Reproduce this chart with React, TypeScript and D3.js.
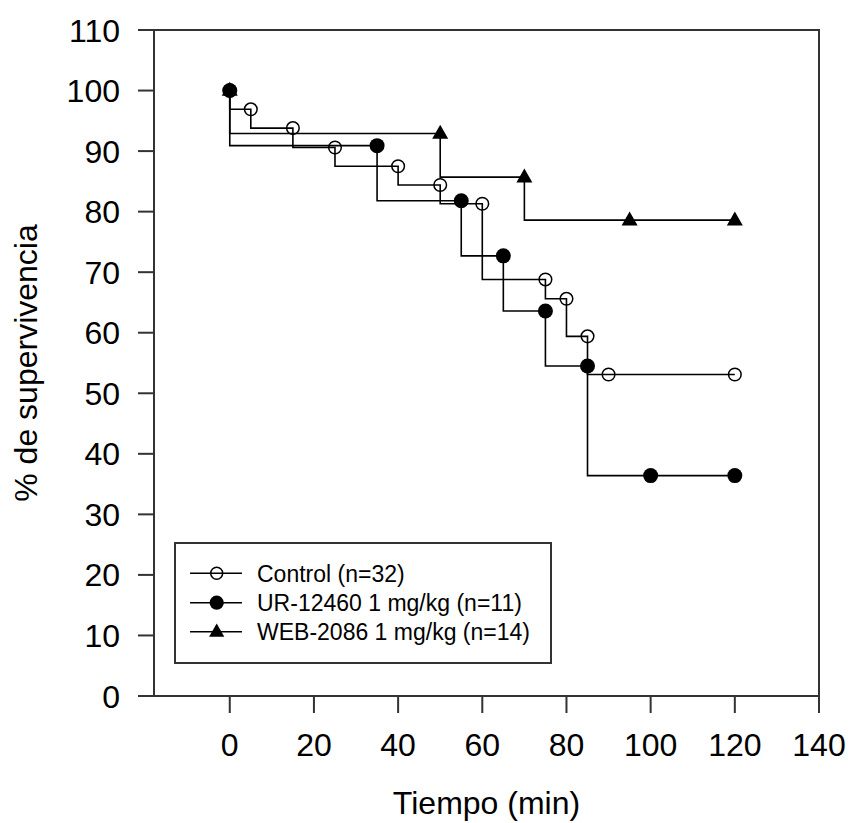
import React from "react";
import * as d3 from "d3";

// Kaplan–Meier survival estimates (%), one event time list per group
const controlTimes = [0, 5, 15, 25, 40, 50, 60, 75, 80, 85, 90, 120];
const controlSurvival = [100, 96.9, 93.8, 90.6, 87.5, 84.4, 81.3, 68.8, 65.6, 59.4, 53.1, 53.1];

const urTimes = [0, 35, 55, 65, 75, 85, 100, 120];
const urSurvival = [100, 90.9, 81.8, 72.7, 63.6, 54.5, 36.4, 36.4];

const webTimes = [0, 50, 70, 95, 120];
const webSurvival = [100, 92.9, 85.7, 78.6, 78.6];

const seriesNames = ["Control (n=32)", "UR-12460 1 mg/kg (n=11)", "WEB-2086 1 mg/kg (n=14)"];
const xTickValues = [0, 20, 40, 60, 80, 100, 120, 140];
const yTickValues = [0, 10, 20, 30, 40, 50, 60, 70, 80, 90, 100, 110];

const xTitle = "Tiempo (min)";
const yTitle = "% de supervivencia";

type Marker = "openCircle" | "filledCircle" | "triangle";

const FONT = "'Liberation Sans', Arial, Helvetica, sans-serif";
const AXIS = "#333";

function MarkerShape({ kind, x, y, scale = 1 }: { kind: Marker; x: number; y: number; scale?: number }) {
  if (kind === "openCircle") {
    return <circle cx={x} cy={y} r={6.3 * scale} fill="none" stroke="#000" strokeWidth={1.5} />;
  }
  if (kind === "filledCircle") {
    return <circle cx={x} cy={y} r={7.5 * scale} fill="#000" />;
  }
  const w = 8 * scale;
  const h = 14 * scale;
  const path = `M${x},${y - h * 0.62} L${x + w},${y + h * 0.38} L${x - w},${y + h * 0.38} Z`;
  return <path d={path} fill="#000" />;
}

export default function App() {
  const width = 850;
  const height = 823;
  const left = 154;
  const right = 819;
  const top = 30;
  const bottom = 696;

  const x = d3.scaleLinear().domain([-18, 140]).range([left, right]);
  const y = d3.scaleLinear().domain([0, 110]).range([bottom, top]);

  const series: { times: number[]; values: number[]; marker: Marker }[] = [
    { times: controlTimes, values: controlSurvival, marker: "openCircle" },
    { times: urTimes, values: urSurvival, marker: "filledCircle" },
    { times: webTimes, values: webSurvival, marker: "triangle" },
  ];

  const step = d3
    .line<[number, number]>()
    .x((d) => x(d[0]))
    .y((d) => y(d[1]))
    .curve(d3.curveStepBefore);

  const legendX = 175;
  const legendY = 543;
  const legendW = 376;
  const legendH = 120;
  const legendRows = [573.3, 602.7, 631.7];

  return (
    <svg
      width={width}
      height={height}
      style={{ position: "absolute", left: 0, top: 0, background: "#fff" }}
      fontFamily={FONT}
    >
      <rect x={0} y={0} width={width} height={height} fill="#fff" />

      {/* survival step curves */}
      {series.map((s, i) => {
        const pts = s.times.map((t, j) => [t, s.values[j]] as [number, number]);
        return (
          <g key={i}>
            <path d={step(pts) || ""} fill="none" stroke="#000" strokeWidth={1.6} />
            {pts.map((p, j) => (
              <MarkerShape key={j} kind={s.marker} x={x(p[0])} y={y(p[1])} />
            ))}
          </g>
        );
      })}

      {/* frame */}
      <rect
        x={left}
        y={top}
        width={right - left}
        height={bottom - top}
        fill="none"
        stroke={AXIS}
        strokeWidth={2}
      />

      {/* y axis ticks and labels */}
      {yTickValues.map((v) => (
        <g key={v}>
          <line x1={left - 16} x2={left} y1={y(v)} y2={y(v)} stroke={AXIS} strokeWidth={2} />
          <text x={120} y={y(v)} dy="0.36em" textAnchor="end" fontSize={32} fill="#000">
            {v}
          </text>
        </g>
      ))}

      {/* x axis ticks and labels */}
      {xTickValues.map((v) => (
        <g key={v}>
          <line x1={x(v)} x2={x(v)} y1={bottom} y2={bottom + 17} stroke={AXIS} strokeWidth={2} />
          <text x={x(v)} y={756} textAnchor="middle" fontSize={32} fill="#000">
            {v}
          </text>
        </g>
      ))}

      {/* axis titles */}
      <text x={(left + right) / 2} y={814} textAnchor="middle" fontSize={32} fill="#000">
        {xTitle}
      </text>
      <text
        transform={`translate(36.5, ${(top + bottom) / 2}) rotate(-90)`}
        textAnchor="middle"
        fontSize={32}
        fill="#000"
      >
        {yTitle}
      </text>

      {/* legend */}
      <rect
        x={legendX}
        y={legendY}
        width={legendW}
        height={legendH}
        fill="#fff"
        stroke={AXIS}
        strokeWidth={2}
      />
      {series.map((s, i) => (
        <g key={i}>
          <line x1={190} x2={242} y1={legendRows[i]} y2={legendRows[i]} stroke="#000" strokeWidth={1.6} />
          <MarkerShape kind={s.marker} x={216.7} y={legendRows[i]} scale={0.95} />
          <text x={257} y={legendRows[i]} dy="0.36em" fontSize={23} fill="#000">
            {seriesNames[i]}
          </text>
        </g>
      ))}
    </svg>
  );
}
